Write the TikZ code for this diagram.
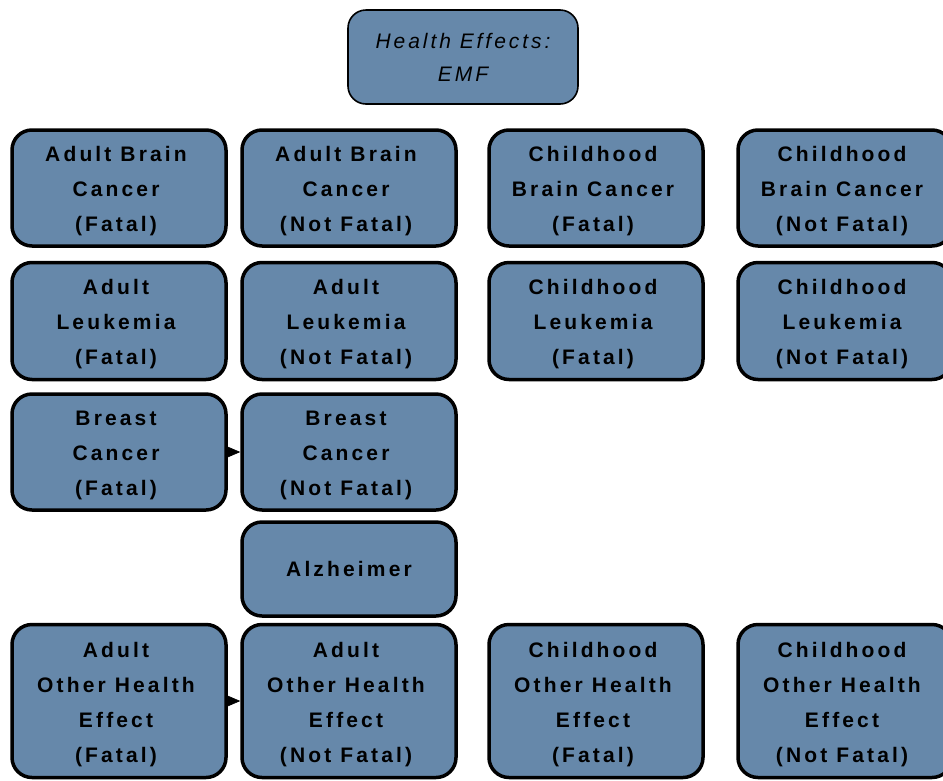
\documentclass[tikz,border=0pt]{standalone}
\usepackage{fontspec}
\usetikzlibrary{arrows.meta}
\newfontfamily\boxfont{Liberation Sans}[LetterSpace=15]
\newfontfamily\topfont{Liberation Sans}[LetterSpace=14]
\definecolor{boxfill}{RGB}{102,136,170}
\tikzset{
  hbox/.style={draw=black, line width=3.5pt, fill=boxfill, rounded corners=20pt,
    minimum width=214pt, inner sep=0pt},
  hlabel/.style={inner sep=0pt, align=center, yshift=-3.5pt, xshift=-3pt,
    font=\boxfont\bfseries\fontsize{21}{35}\selectfont},
  htext/.style={label={[hlabel]center:{#1}}},
  topbox/.style={draw=black, line width=1.6pt, fill=boxfill, rounded corners=18pt,
    minimum width=230pt, minimum height=94pt, inner sep=0pt, align=center,
    font=\topfont\itshape\fontsize{21}{33}\selectfont},
  link/.style={-{Triangle[length=13pt,width=11pt]}, line width=0.6pt}
}
\begin{document}
\begin{tikzpicture}[x=1pt,y=-1pt]
\useasboundingbox (0,0) rectangle (943,780);
\clip (0,0) rectangle (943,780);
\node[topbox] (top) at (463,57) {Health Effects:\\EMF};
% row 1
\node[hbox, minimum height=116pt, htext={Adult Brain\\Cancer\\(Fatal)}] (abf) at (119,188) {};
\node[hbox, minimum height=116pt, htext={Adult Brain\\Cancer\\(Not Fatal)}] (abn) at (349,188) {};
\node[hbox, minimum height=116pt, htext={Childhood\\Brain Cancer\\(Fatal)}] (cbf) at (596,188) {};
\node[hbox, minimum height=116pt, htext={Childhood\\Brain Cancer\\(Not Fatal)}] (cbn) at (845,188) {};
% row 2
\node[hbox, minimum height=117pt, htext={Adult\\Leukemia\\(Fatal)}] (alf) at (119,321) {};
\node[hbox, minimum height=117pt, htext={Adult\\Leukemia\\(Not Fatal)}] (aln) at (349,321) {};
\node[hbox, minimum height=117pt, htext={Childhood\\Leukemia\\(Fatal)}] (clf) at (596,321) {};
\node[hbox, minimum height=117pt, htext={Childhood\\Leukemia\\(Not Fatal)}] (cln) at (845,321) {};
% row 3
\node[hbox, minimum height=116pt, htext={Breast\\Cancer\\(Fatal)}] (bcf) at (119,452) {};
\node[hbox, minimum height=116pt, htext={Breast\\Cancer\\(Not Fatal)}] (bcn) at (349,452) {};
% Alzheimer
\node[hbox, minimum height=94pt, font=\boxfont\bfseries\fontsize{21}{35}\selectfont] (alz) at (349,569) {Alzheimer};
% row 5
\node[hbox, minimum height=153pt, htext={Adult\\Other Health\\Effect\\(Fatal)}] (aof) at (119,701) {};
\node[hbox, minimum height=153pt, htext={Adult\\Other Health\\Effect\\(Not Fatal)}] (aon) at (349,701) {};
\node[hbox, minimum height=153pt, htext={Childhood\\Other Health\\Effect\\(Fatal)}] (cof) at (596,701) {};
\node[hbox, minimum height=153pt, htext={Childhood\\Other Health\\Effect\\(Not Fatal)}] (con) at (845,701) {};
% connectors
\draw[link] (bcf.east) -- (bcn.west);
\draw[link] (aof.east) -- (aon.west);
\end{tikzpicture}
\end{document}
